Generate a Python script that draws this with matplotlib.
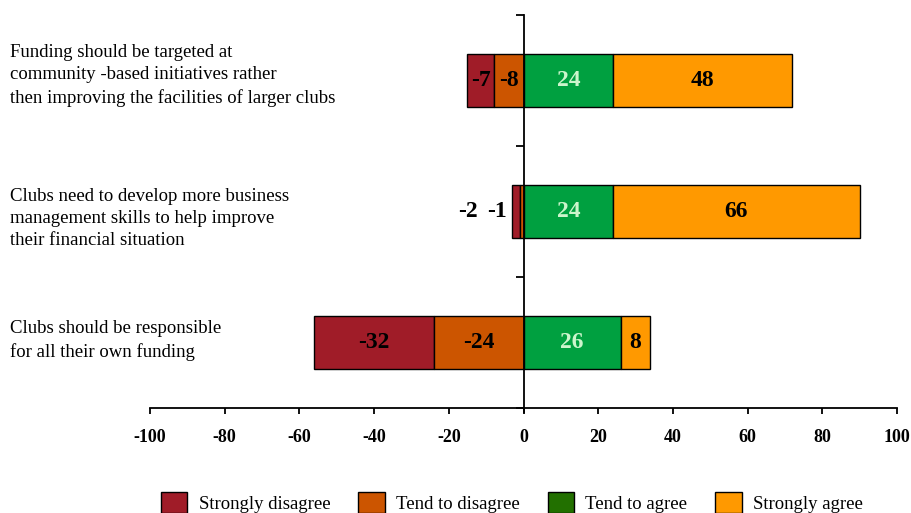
import matplotlib.pyplot as plt
from matplotlib.patches import Patch

statements = [
    "Funding should be targeted at\ncommunity -based initiatives rather\nthen improving the facilities of larger clubs",
    "Clubs need to develop more business\nmanagement skills to help improve\ntheir financial situation",
    "Clubs should be responsible\nfor all their own funding",
]
strongly_disagree = [-7, -2, -32]
tend_disagree = [-8, -1, -24]
tend_agree = [24, 24, 26]
strongly_agree = [48, 66, 8]

labels = ["Strongly disagree", "Tend to disagree", "Tend to agree", "Strongly agree"]
bar_colors = ["#A01C28", "#CC5500", "#00A040", "#FF9900"]
legend_colors = ["#A01C28", "#CC5500", "#227000", "#FF9900"]
text_colors = ["black", "black", "#CCF5CC", "black"]

plt.rcParams['font.family'] = ['Liberation Serif', 'DejaVu Serif']

fig = plt.figure(figsize=(9.11, 5.13), dpi=100)
ax = fig.add_axes([150/911, 1 - 408/513, 747/911, 393/513])

ypos = [2, 1, 0]
h = 0.4

# stack outwards from zero
segs = [
    (strongly_disagree, tend_disagree),
    (tend_disagree, [0, 0, 0]),
    (tend_agree, [0, 0, 0]),
    (strongly_agree, tend_agree),
]
for i, (vals, base) in enumerate(segs):
    ax.barh(ypos, vals, left=base, height=h, color=bar_colors[i],
            edgecolor="black", linewidth=1.0, zorder=2)
    for j, v in enumerate(vals):
        cx = base[j] + v / 2
        if abs(v) < 3:
            # too small, put the label outside on the left
            cx = -15 if i == 0 else -7
            col = "black"
        else:
            col = text_colors[i]
        ax.text(cx, ypos[j], str(v), ha="center", va="center",
                fontsize=17, fontweight="bold", color=col, zorder=3)

ax.set_xlim(-100, 100)
ax.set_ylim(-0.5, 2.5)
ax.set_xticks(range(-100, 101, 20))
ax.set_xticklabels([str(t) for t in range(-100, 101, 20)],
                   fontsize=13, fontweight="bold")
ax.set_yticks([-0.5, 0.5, 1.5, 2.5])
ax.set_yticklabels([])

ax.spines["left"].set_position(("data", 0))
ax.spines["left"].set_bounds(-0.53, 2.5)
ax.spines["top"].set_visible(False)
ax.spines["right"].set_visible(False)
for s in ["left", "bottom"]:
    ax.spines[s].set_linewidth(1.3)
ax.tick_params(axis="y", direction="out", length=6, width=1.3)
ax.tick_params(axis="x", direction="out", length=4, width=1.3, pad=11)

# label offsets in pixels (positive = down)
label_shift = [-5, 7, -2]
for j, s in enumerate(statements):
    yc = ax.transData.transform((0, ypos[j]))[1] - label_shift[j]
    fig.text(10/911, yc / 513, s, ha="left", va="center",
             fontsize=13.5, linespacing=1.4)

handles = [Patch(facecolor=c, edgecolor="black", linewidth=1.0) for c in legend_colors]
fig.legend(handles, labels, loc="lower center", bbox_to_anchor=(0.562, -0.015),
           ncol=4, frameon=False, fontsize=13.5, handlelength=1.4,
           handleheight=1.4, handletextpad=0.6, columnspacing=1.5,
           borderaxespad=0)

fig.savefig("out.png", dpi=100)
